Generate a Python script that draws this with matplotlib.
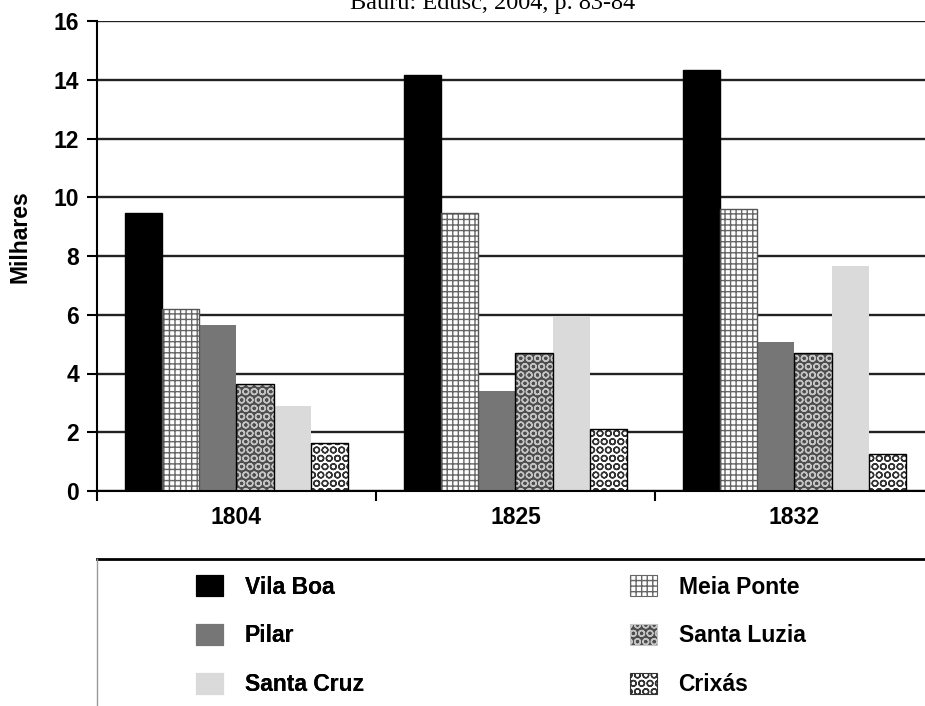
import numpy as np
import matplotlib
matplotlib.use('Agg')
import matplotlib.pyplot as plt
from matplotlib.patches import Patch
from matplotlib.lines import Line2D

# dados (milhares)
anos = ['1804', '1825', '1832']
vila_boa = [9.46, 14.16, 14.33]
meia_ponte = [6.20, 9.47, 9.59]
pilar = [5.65, 3.41, 5.08]
santa_luzia = [3.64, 4.69, 4.71]
santa_cruz = [2.89, 5.91, 7.66]
crixas = [1.62, 2.10, 1.26]
yticks = [0, 2, 4, 6, 8, 10, 12, 14, 16]
fonte = 'Bauru: Edusc, 2004, p. 83-84'


def main():
    plt.rcParams['font.family'] = 'Liberation Sans'
    plt.rcParams['font.weight'] = 'bold'
    plt.rcParams['hatch.linewidth'] = 1.0

    fig = plt.figure(figsize=(9.25, 7.06), dpi=100, facecolor='w')
    ax = fig.add_axes([97/925, 1-491/706, 837/925, 470/706])

    x = np.arange(len(anos))
    w = 0.8/6
    # (valores, nome, cor, cor da trama, trama, contorno)
    series = [
        (vila_boa, 'Vila Boa', 'black', 'black', None, 'black'),
        (meia_ponte, 'Meia Ponte', 'white', '#666666', '+++', '#555555'),
        (pilar, 'Pilar', '#767676', '#767676', None, None),
        (santa_luzia, 'Santa Luzia', '#4d4d4d', '#c4c4c4', 'OO', 'black'),
        (santa_cruz, 'Santa Cruz', '#dadada', '#dadada', None, None),
        (crixas, 'Crixás', 'white', '#333333', 'OO', 'black'),
    ]
    handles = {}
    for i, (vals, nome, fc, hc, h, ec) in enumerate(series):
        pos = x - 0.4 + w*(i + 0.5)
        ax.bar(pos, vals, w, color=fc, edgecolor=hc, hatch=h, lw=0, zorder=3)
        if ec is not None:
            ax.bar(pos, vals, w, fill=False, edgecolor=ec, lw=1.0, zorder=4)
        handles[nome] = Patch(facecolor=fc, edgecolor=hc, hatch=h, lw=0.8)

    ax.set_xlim(-0.5, 2.5)
    ax.set_ylim(0, 16)
    ax.set_yticks(yticks)
    ax.set_yticklabels([str(t) for t in yticks], fontsize=16.5, fontweight='bold')
    ax.set_xticks(x)
    ax.set_xticklabels(anos, fontsize=16.5, fontweight='bold')
    ax.set_xticks([-0.5, 0.5, 1.5], minor=True)
    ax.tick_params(axis='x', which='major', length=0, pad=11)
    ax.tick_params(axis='x', which='minor', length=7, width=1.5, direction='out')
    ax.tick_params(axis='y', length=7, width=1.5, direction='out', pad=6)

    ax.grid(axis='y', color='#222222', lw=1.7, zorder=1)
    for s in ['top', 'right']:
        ax.spines[s].set_visible(False)
    ax.spines['left'].set_linewidth(1.5)
    ax.spines['bottom'].set_linewidth(1.5)
    ax.spines['left'].set_zorder(5)
    ax.spines['bottom'].set_zorder(5)

    fig.text(20/925, 1-237/706, 'Milhares', rotation=90, ha='center', va='center',
             fontsize=16.5, fontweight='bold')
    # linha da fonte, cortada no topo como no original
    fig.text(493/925, 1-9/706, fonte, ha='center', va='baseline',
             family='Liberation Serif', fontweight='normal', fontsize=17.5)

    # caixa da legenda
    fig.add_artist(Line2D([97/925, 1.0], [1-559/706, 1-559/706], color='black', lw=2.0))
    fig.add_artist(Line2D([97/925, 97/925], [1-559/706, 0], color='#999999', lw=1.0))

    kw = dict(loc='upper left', frameon=False, borderpad=0,
              handlelength=1.15, handleheight=1.0, handletextpad=0.95,
              labelspacing=1.12, prop={'weight': 'bold', 'size': 16.5})
    esq = ['Vila Boa', 'Pilar', 'Santa Cruz']
    dir_ = ['Meia Ponte', 'Santa Luzia', 'Crixás']
    lg1 = fig.legend([handles[n] for n in esq], esq,
                     bbox_to_anchor=(185/925, 1-564/706), **kw)
    fig.add_artist(lg1)
    fig.legend([handles[n] for n in dir_], dir_,
               bbox_to_anchor=(619/925, 1-564/706), **kw)

    plt.savefig('out.png', dpi=100)


if __name__ == '__main__':
    main()
